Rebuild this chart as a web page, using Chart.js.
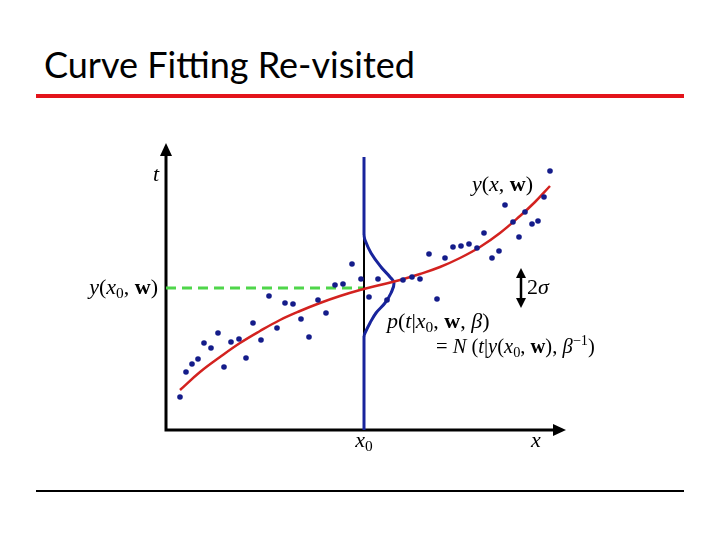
<!DOCTYPE html>
<html>
<head>
<meta charset="utf-8">
<script src="https://cdn.jsdelivr.net/npm/chart.js@4.4.1/dist/chart.umd.min.js"></script>
<style>
  body { margin: 0; width: 720px; height: 540px; background: #fff; position: relative; overflow: hidden; }
  #title { position: absolute; left: 44px; top: 42px; font-family: Lato, "Open Sans", sans-serif; font-size: 36px; color: #000; white-space: nowrap; }
  #redRule { position: absolute; left: 36px; top: 94px; width: 648px; height: 4px; background: #e3141b; }
  #blackRule { position: absolute; left: 36px; top: 490px; width: 648px; height: 2px; background: #000; }
  canvas { position: absolute; left: 0; top: 0; }
</style>
</head>
<body>
<div id="title">Curve Fitting Re-visited</div>
<div id="redRule"></div>
<div id="blackRule"></div>
<canvas id="plot" width="720" height="540"></canvas>
<script>
// observations (x, t)
const obsX = [14, 20, 26, 32, 38, 45, 52, 58, 65, 73, 80, 87, 95, 103, 111, 119, 127, 135, 143, 152,
  160, 169, 177, 186, 195, 203, 212, 221, 237, 246, 254, 263, 271, 279, 287, 295, 303, 311, 318, 326,
  333, 339, 347, 353, 359, 366, 372, 378, 384];
const obsT = [33, 58, 66, 71, 87, 82, 97, 63, 88, 91, 72, 107, 90, 134, 102, 127, 126, 111, 93, 130,
  117, 145, 146, 166, 151, 133, 151, 130, 150, 153, 151, 176, 131, 172, 183, 184, 186, 182, 197, 172,
  179, 225, 208, 193, 218, 206, 209, 233, 259];

// fitted curve y(x, w)
const fitX = [14, 34, 54, 74, 94, 114, 134, 154, 174, 194, 214, 234, 254, 274, 294, 314, 334, 354, 369, 384];
const fitY = [40, 58, 73, 87, 99, 110, 119, 127, 134, 140, 145, 150, 156, 163, 172, 183, 197, 214, 228, 244];

// x0 and y(x0, w)
const x0 = 198;
const yAtX0 = 142;
const lineTop = 273;

// p(t | x0, w, beta) drawn sideways at x0
const gaussT = [195, 190, 177, 163, 153, 147, 137, 127, 117, 107, 97, 94];
const gaussP = [0, 1, 7, 17, 26, 30, 27, 21, 12, 6, 1, 0];

// 2 sigma marker
const sigmaLow = 122;
const sigmaHigh = 162;

const pts = (xs, ys) => xs.map((x, i) => ({ x: x, y: ys[i] }));

const blue = "#18249c";
const dotBlue = "#141c8a";

function drawRich(ctx, segs, x, y, align, size) {
  const fontOf = s => {
    const sz = (s.k === "sub" || s.k === "sup") ? size * 0.7 : size;
    const st = s.k === "i" ? "italic " : (s.k === "b" ? "bold " : "");
    return st + sz + "px 'Liberation Serif', 'Times New Roman', serif";
  };
  let w = 0;
  segs.forEach(s => { ctx.font = fontOf(s); w += ctx.measureText(s.t).width; });
  let cx = align === "right" ? x - w : (align === "center" ? x - w / 2 : x);
  ctx.textBaseline = "middle";
  ctx.textAlign = "left";
  segs.forEach(s => {
    ctx.font = fontOf(s);
    let dy = 0;
    if (s.k === "sub") dy = size * 0.25;
    if (s.k === "sup") dy = -size * 0.35;
    ctx.fillText(s.t, cx, y + dy);
    cx += ctx.measureText(s.t).width;
  });
}

function arrowHead(ctx, x, y, dir, len, half) {
  ctx.beginPath();
  if (dir === "up") { ctx.moveTo(x, y); ctx.lineTo(x - half, y + len); ctx.lineTo(x + half, y + len); }
  if (dir === "down") { ctx.moveTo(x, y); ctx.lineTo(x - half, y - len); ctx.lineTo(x + half, y - len); }
  if (dir === "right") { ctx.moveTo(x, y); ctx.lineTo(x - len, y - half); ctx.lineTo(x - len, y + half); }
  ctx.closePath();
  ctx.fill();
}

const decor = {
  id: "decor",
  beforeDatasetsDraw(chart) {
    const ctx = chart.ctx;
    const sx = chart.scales.x, sy = chart.scales.y;
    const ox = sx.getPixelForValue(0), oy = sy.getPixelForValue(0);
    const tipX = sx.getPixelForValue(sx.max), tipY = sy.getPixelForValue(sy.max);
    ctx.save();
    ctx.strokeStyle = "#000";
    ctx.fillStyle = "#000";
    ctx.lineWidth = 3;
    ctx.beginPath();
    ctx.moveTo(ox, oy + 1.5); ctx.lineTo(ox, tipY + 8);
    ctx.moveTo(ox - 1.5, oy); ctx.lineTo(tipX - 8, oy);
    ctx.stroke();
    arrowHead(ctx, ox, tipY, "up", 13, 6);
    arrowHead(ctx, tipX, oy, "right", 13, 6);
    ctx.restore();
  },
  afterDraw(chart) {
    const ctx = chart.ctx;
    const sx = chart.scales.x, sy = chart.scales.y;
    const px = v => sx.getPixelForValue(v), py = v => sy.getPixelForValue(v);
    ctx.save();
    ctx.fillStyle = "#000";
    ctx.strokeStyle = "#000";
    // 2 sigma arrow
    const ax = px(355);
    ctx.lineWidth = 2.5;
    ctx.beginPath();
    ctx.moveTo(ax, py(sigmaHigh) + 8);
    ctx.lineTo(ax, py(sigmaLow) - 8);
    ctx.stroke();
    arrowHead(ctx, ax, py(sigmaHigh), "up", 10, 5);
    arrowHead(ctx, ax, py(sigmaLow), "down", 10, 5);

    const S = 22;
    drawRich(ctx, [{ t: "2", k: "r" }, { t: "σ", k: "i" }], px(361), py(yAtX0), "left", S);
    drawRich(ctx, [{ t: "t", k: "i" }], px(-10), py(255), "center", S);
    drawRich(ctx, [{ t: "x", k: "i" }], px(370), py(-11), "center", S);
    drawRich(ctx, [{ t: "x", k: "i" }, { t: "0", k: "sub" }], px(x0), py(-11), "center", S);
    drawRich(ctx, [{ t: "y", k: "i" }, { t: "(", k: "r" }, { t: "x", k: "i" }, { t: "0", k: "sub" },
      { t: ", ", k: "r" }, { t: "w", k: "b" }, { t: ")", k: "r" }], px(-8), py(yAtX0), "right", S);
    drawRich(ctx, [{ t: "y", k: "i" }, { t: "(", k: "r" }, { t: "x", k: "i" }, { t: ", ", k: "r" },
      { t: "w", k: "b" }, { t: ")", k: "r" }], px(306), py(245), "left", S);
    drawRich(ctx, [{ t: "p", k: "i" }, { t: "(", k: "r" }, { t: "t", k: "i" }, { t: "|", k: "r" },
      { t: "x", k: "i" }, { t: "0", k: "sub" }, { t: ", ", k: "r" }, { t: "w", k: "b" }, { t: ", ", k: "r" },
      { t: "β", k: "i" }, { t: ")", k: "r" }], px(221), py(108), "left", S);
    drawRich(ctx, [{ t: "= ", k: "r" }, { t: "N", k: "i" }, { t: " (", k: "r" }, { t: "t", k: "i" },
      { t: "|", k: "r" }, { t: "y", k: "i" }, { t: "(", k: "r" }, { t: "x", k: "i" }, { t: "0", k: "sub" },
      { t: ", ", k: "r" }, { t: "w", k: "b" }, { t: "), ", k: "r" }, { t: "β", k: "i" }, { t: "−1", k: "sup" },
      { t: ")", k: "r" }], px(270), py(82), "left", 20.5);
    ctx.restore();
  }
};

new Chart(document.getElementById("plot"), {
  type: "scatter",
  data: {
    datasets: [
      {
        data: pts(obsX, obsT),
        backgroundColor: dotBlue,
        borderWidth: 0,
        pointRadius: 2.8,
        order: 0
      },
      {
        data: pts(fitX, fitY),
        showLine: true,
        borderColor: "#d3221f",
        borderWidth: 2.5,
        pointRadius: 0,
        tension: 0.4,
        order: 1
      },
      {
        data: pts(gaussP.map(p => x0 + p), gaussT),
        showLine: true,
        borderColor: blue,
        borderWidth: 3,
        pointRadius: 0,
        tension: 0.4,
        order: 2
      },
      {
        data: [{ x: x0, y: 0 }, { x: x0, y: gaussT[gaussT.length - 1] }],
        showLine: true,
        borderColor: blue,
        borderWidth: 3,
        pointRadius: 0,
        order: 2
      },
      {
        data: [{ x: x0, y: gaussT[0] }, { x: x0, y: lineTop }],
        showLine: true,
        borderColor: blue,
        borderWidth: 3,
        pointRadius: 0,
        order: 2
      },
      {
        data: [{ x: x0, y: gaussT[gaussT.length - 1] }, { x: x0, y: gaussT[0] }],
        showLine: true,
        borderColor: "#000",
        borderWidth: 2,
        pointRadius: 0,
        order: 3
      },
      {
        data: [{ x: 0, y: yAtX0 }, { x: x0, y: yAtX0 }],
        showLine: true,
        borderColor: "#4fd64a",
        borderWidth: 3,
        borderDash: [10, 6],
        pointRadius: 0,
        order: 4
      }
    ]
  },
  options: {
    responsive: false,
    animation: false,
    layout: { padding: { left: 166, right: 154, top: 143, bottom: 110 } },
    plugins: { legend: { display: false }, tooltip: { enabled: false } },
    scales: {
      x: { type: "linear", min: 0, max: 400, display: false },
      y: { type: "linear", min: 0, max: 287, display: false }
    }
  },
  plugins: [decor]
});
</script>
</body>
</html>
